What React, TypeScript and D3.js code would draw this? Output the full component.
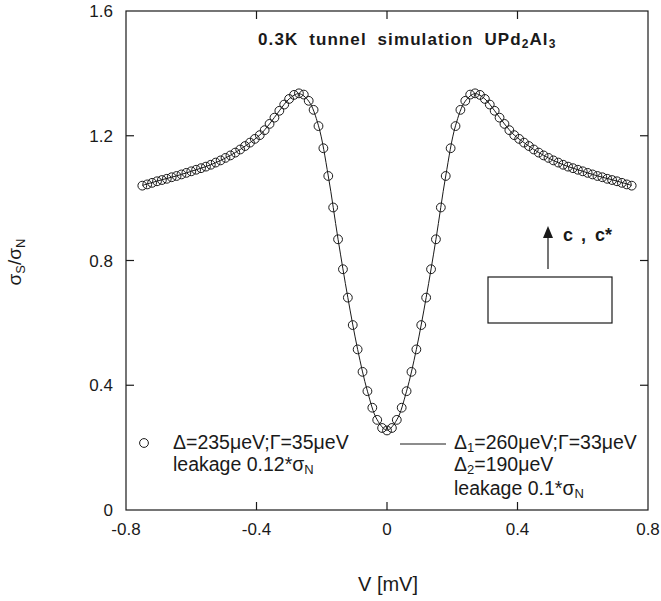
import React from "react";
import * as d3 from "d3";

// bias voltage of each simulated point (mV)
const voltages = [
  -0.75, -0.735, -0.72, -0.705, -0.69, -0.675, -0.66, -0.645, -0.63, -0.615,
  -0.6, -0.585, -0.57, -0.555, -0.54, -0.525, -0.51, -0.495, -0.48, -0.465,
  -0.45, -0.435, -0.42, -0.405, -0.39, -0.375, -0.36, -0.345, -0.33, -0.315,
  -0.3, -0.285, -0.27, -0.255, -0.24, -0.225, -0.21, -0.195, -0.18, -0.165,
  -0.15, -0.135, -0.12, -0.105, -0.09, -0.075, -0.06, -0.045, -0.03, -0.015,
  0, 0.015, 0.03, 0.045, 0.06, 0.075, 0.09, 0.105, 0.12, 0.135,
  0.15, 0.165, 0.18, 0.195, 0.21, 0.225, 0.24, 0.255, 0.27, 0.285,
  0.3, 0.315, 0.33, 0.345, 0.36, 0.375, 0.39, 0.405, 0.42, 0.435,
  0.45, 0.465, 0.48, 0.495, 0.51, 0.525, 0.54, 0.555, 0.57, 0.585,
  0.6, 0.615, 0.63, 0.645, 0.66, 0.675, 0.69, 0.705, 0.72, 0.735, 0.75,
];

// open circles: single gap, D=235ueV, G=35ueV
const circleRatio = [
  1.04, 1.044, 1.049, 1.054, 1.058, 1.062, 1.067, 1.071, 1.076, 1.081,
  1.086, 1.091, 1.096, 1.101, 1.107, 1.114, 1.121, 1.129, 1.137, 1.146,
  1.156, 1.167, 1.178, 1.19, 1.202, 1.218, 1.238, 1.258, 1.28, 1.3,
  1.318, 1.331, 1.336, 1.332, 1.312, 1.283, 1.231, 1.16, 1.071, 0.97,
  0.868, 0.772, 0.681, 0.593, 0.515, 0.443, 0.381, 0.328, 0.289, 0.263,
  0.255, 0.263, 0.289, 0.328, 0.381, 0.443, 0.515, 0.593, 0.681, 0.772,
  0.868, 0.97, 1.071, 1.16, 1.231, 1.283, 1.312, 1.332, 1.336, 1.331,
  1.318, 1.3, 1.28, 1.258, 1.238, 1.218, 1.202, 1.19, 1.178, 1.167,
  1.156, 1.146, 1.137, 1.129, 1.121, 1.114, 1.107, 1.101, 1.096, 1.091,
  1.086, 1.081, 1.076, 1.071, 1.067, 1.062, 1.058, 1.054, 1.049, 1.044, 1.04,
];

// solid line: two gaps D1=260ueV, D2=190ueV
const lineV = [
  -0.75, -0.72, -0.69, -0.66, -0.63, -0.6, -0.57, -0.54, -0.51, -0.48,
  -0.45, -0.42, -0.39, -0.36, -0.33, -0.3, -0.27, -0.24, -0.21, -0.18,
  -0.15, -0.12, -0.09, -0.06, -0.03, 0, 0.03, 0.06, 0.09, 0.12,
  0.15, 0.18, 0.21, 0.24, 0.27, 0.3, 0.33, 0.36, 0.39, 0.42,
  0.45, 0.48, 0.51, 0.54, 0.57, 0.6, 0.63, 0.66, 0.69, 0.72, 0.75,
];
const lineRatio = [
  1.041, 1.05, 1.059, 1.067, 1.076, 1.086, 1.096, 1.107, 1.121, 1.137,
  1.156, 1.178, 1.202, 1.238, 1.28, 1.318, 1.335, 1.311, 1.232, 1.071,
  0.868, 0.681, 0.515, 0.381, 0.289, 0.256, 0.289, 0.381, 0.515, 0.681,
  0.868, 1.071, 1.232, 1.311, 1.335, 1.318, 1.28, 1.238, 1.202, 1.178,
  1.156, 1.137, 1.121, 1.107, 1.096, 1.086, 1.076, 1.067, 1.059, 1.05, 1.041,
];

const xTicks = [-0.8, -0.4, 0, 0.4, 0.8];
const yTicks = [0, 0.4, 0.8, 1.2, 1.6];

const W = 661;
const H = 601;
const left = 126, right = 648, top = 11, bottom = 510;
const font = "'Liberation Sans', Arial, Helvetica, sans-serif";
const ink = "#1a1a1a";

export default function App() {
  const x = d3.scaleLinear().domain([-0.8, 0.8]).range([left, right]);
  const y = d3.scaleLinear().domain([0, 1.6]).range([bottom, top]);
  const line = d3
    .line<number>()
    .x((_, i) => x(lineV[i]))
    .y((d) => y(d))
    .curve(d3.curveCatmullRom);

  const inner = (t: number) => t > -0.8 && t < 0.8;
  const innerY = (t: number) => t > 0 && t < 1.6;
  const tl = 8;
  const fmt = (t: number) => (t === 0 ? "0" : d3.format(".1f")(t).replace("−", "-"));

  return (
    <svg width={W} height={H} style={{ position: "absolute", left: 0, top: 0, background: "#fff" }}>
      <g fill={ink} fontFamily={font}>
        {/* frame */}
        <rect x={left} y={top} width={right - left} height={bottom - top} fill="none" stroke={ink} strokeWidth={1.2} />
        {/* ticks, inward on all four sides */}
        {xTicks.filter(inner).map((t) => (
          <g key={"xt" + t} stroke={ink} strokeWidth={1.2}>
            <line x1={x(t)} x2={x(t)} y1={bottom} y2={bottom - tl} />
            <line x1={x(t)} x2={x(t)} y1={top} y2={top + tl} />
          </g>
        ))}
        {yTicks.filter(innerY).map((t) => (
          <g key={"yt" + t} stroke={ink} strokeWidth={1.2}>
            <line x1={left} x2={left + tl} y1={y(t)} y2={y(t)} />
            <line x1={right} x2={right - tl} y1={y(t)} y2={y(t)} />
          </g>
        ))}
        {xTicks.map((t) => (
          <text key={"xl" + t} x={x(t)} y={bottom + 25} fontSize={17} textAnchor="middle">
            {fmt(t)}
          </text>
        ))}
        {yTicks.map((t) => (
          <text key={"yl" + t} x={113} y={y(t) + 6} fontSize={17} textAnchor="end">
            {fmt(t)}
          </text>
        ))}
        {/* axis titles */}
        <text x={388} y={591} fontSize={20} textAnchor="middle">V [mV]</text>
        <text transform="translate(21,262) rotate(-90)" fontSize={19} textAnchor="middle">
          σ<tspan fontSize={13} dy={4}>S</tspan>
          <tspan dy={-4}>/σ</tspan>
          <tspan fontSize={13} dy={4}>N</tspan>
        </text>

        {/* data */}
        <path d={line(lineRatio) || ""} fill="none" stroke={ink} strokeWidth={1} />
        {circleRatio.map((d, i) => (
          <circle key={i} cx={x(voltages[i])} cy={y(d)} r={4.4} fill="none" stroke={ink} strokeWidth={1} />
        ))}

        {/* title */}
        <text x={258} y={45} fontSize={17} fontWeight="bold" letterSpacing={1.1} wordSpacing={5}>
          0.3K tunnel simulation UPd<tspan fontSize={12} dy={3}>2</tspan>
          <tspan dy={-3}>Al</tspan>
          <tspan fontSize={12} dy={3}>3</tspan>
        </text>

        {/* c, c* annotation */}
        <line x1={548} x2={548} y1={269} y2={236} stroke={ink} strokeWidth={1.2} />
        <path d="M548,226 L543,238 L553,238 Z" fill={ink} />
        <text x={563} y={241} fontSize={18} fontWeight="bold">c</text>
        <text x={581} y={241} fontSize={18} fontWeight="bold">,</text>
        <text x={595} y={241} fontSize={18} fontWeight="bold">c*</text>
        <rect x={488} y={277} width={124} height={46} fill="none" stroke={ink} strokeWidth={1.2} />

        {/* legend: circles */}
        <circle cx={144} cy={443} r={4.4} fill="none" stroke={ink} strokeWidth={1} />
        <text x={173} y={449} fontSize={19.5}>Δ=235μeV;Γ=35μeV</text>
        <text x={173} y={471} fontSize={19.5}>
          leakage 0.12*σ<tspan fontSize={13} dy={3}>N</tspan>
        </text>

        {/* legend: line */}
        <line x1={400} x2={446} y1={444} y2={444} stroke={ink} strokeWidth={1} />
        <text x={454} y={449} fontSize={19.5}>
          Δ<tspan fontSize={13} dy={3}>1</tspan>
          <tspan dy={-3}>=260μeV;Γ=33μeV</tspan>
        </text>
        <text x={454} y={471} fontSize={19.5}>
          Δ<tspan fontSize={13} dy={3}>2</tspan>
          <tspan dy={-3}>=190μeV</tspan>
        </text>
        <text x={454} y={495} fontSize={19.5}>
          leakage 0.1*σ<tspan fontSize={13} dy={3}>N</tspan>
        </text>
      </g>
    </svg>
  );
}
